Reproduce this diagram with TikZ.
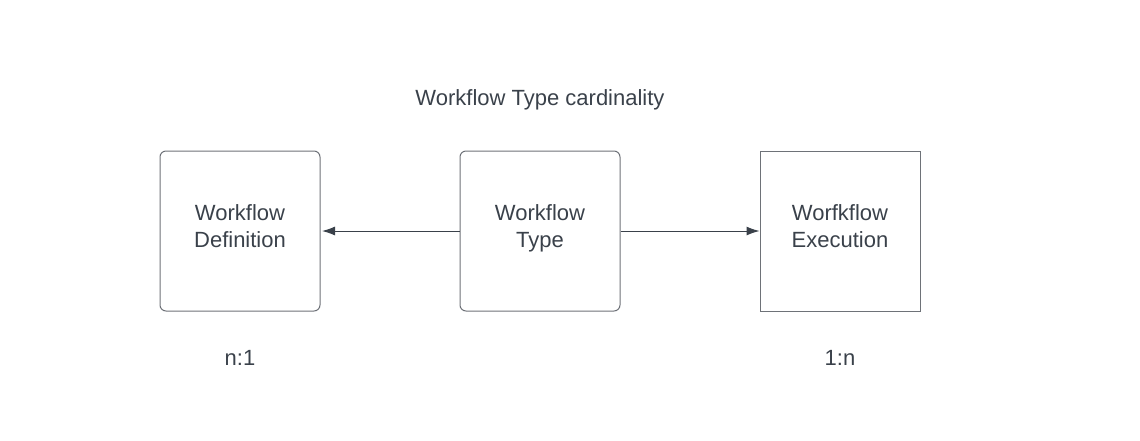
\documentclass[tikz,border=0pt]{standalone}
\usepackage{fontspec}
\setmainfont{Liberation Sans}
\usetikzlibrary{arrows.meta}
\definecolor{txt}{HTML}{3A414A}
\definecolor{edge}{HTML}{6E7278}
\definecolor{arr}{HTML}{3A414A}
\begin{document}
\begin{tikzpicture}[x=1pt,y=-1pt,
  box/.style={draw=edge,line width=1pt,minimum width=160pt,minimum height=160pt,inner sep=0pt},
  boxtext/.style={align=center,text=txt,inner sep=0pt,font=\fontsize{22}{27}\selectfont},
  lbl/.style={text=txt,font=\fontsize{22}{27}\selectfont,inner sep=0pt},
  conn/.style={draw=arr,line width=1pt,-{Latex[length=13pt,width=9pt]}}]
\useasboundingbox (0,0) rectangle (1140,440);
\node[box,rounded corners=6pt] (def) at (240,231) {};
\node[box,rounded corners=6pt] (type) at (540,231) {};
\node[box] (exec) at (840,231) {};
\node[boxtext] (deft) at (240,229) {\strut Workflow\\\strut Definition};
\node[boxtext] (typet) at (540,229) {\strut Workflow\\\strut Type};
\node[boxtext] (exect) at (840,229) {\strut Worfkflow\\\strut Execution};
\node[lbl] (title) at (540,100) {Workflow Type cardinality};
\node[lbl] (n1) at (240,358) {n:1};
\node[lbl] (1n) at (840,358) {1:n};
\draw[conn] (type.west) -- ([xshift=1.5pt]def.east);
\draw[conn] (type.east) -- (exec.west);
\end{tikzpicture}
\end{document}
